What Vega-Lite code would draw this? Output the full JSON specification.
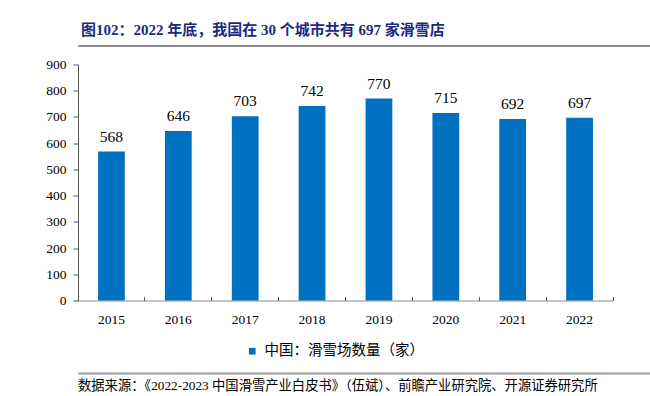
{
  "$schema": "https://vega.github.io/schema/vega-lite/v6.json",
  "background": "white",
  "padding": {"left": 24, "top": 22, "right": 20, "bottom": 4},
  "config": {
    "view": {"stroke": null},
    "font": "Liberation Serif, Noto Sans CJK SC"
  },
  "spacing": 10.5,
  "vconcat": [
    {
      "width": 606,
      "height": 1,
      "data": {"values": []},
      "mark": "text",
      "encoding": {},
      "view": {"stroke": "#8c8c8c", "strokeWidth": 1},
      "title": {
        "text": "图102：2022 年底，我国在 30 个城市共有 697 家滑雪店",
        "anchor": "start",
        "font": "Liberation Serif, Noto Sans CJK SC",
        "fontSize": 15,
        "fontWeight": "bold",
        "color": "#1c2a80",
        "offset": 7,
        "dx": 3
      }
    },
    {
      "spacing": 45,
      "vconcat": [
        {
          "hconcat": [
            {
              "width": 535,
              "height": 236,
              "data": {
                "values": [
                  {"year": "2015", "value": 568},
                  {"year": "2016", "value": 646},
                  {"year": "2017", "value": 703},
                  {"year": "2018", "value": 742},
                  {"year": "2019", "value": 770},
                  {"year": "2020", "value": 715},
                  {"year": "2021", "value": 692},
                  {"year": "2022", "value": 697}
                ]
              },
              "resolve": {"axis": {"x": "independent"}},
              "encoding": {
                "y": {
                  "field": "value",
                  "type": "quantitative",
                  "scale": {"domain": [0, 900], "nice": false},
                  "axis": {
                    "title": null,
                    "grid": false,
                    "values": [0, 100, 200, 300, 400, 500, 600, 700, 800, 900],
                    "labelOverlap": false,
                    "tickSize": 5,
                    "tickColor": "#555555",
                    "domainColor": "#555555",
                    "labelFont": "Liberation Serif",
                    "labelFontSize": 13.5,
                    "labelColor": "#000000",
                    "labelPadding": 7,
                    "minExtent": 54
                  }
                }
              },
              "layer": [
                {
                  "mark": {"type": "bar", "width": {"band": 0.4}},
                  "encoding": {
                    "x": {
                      "field": "year",
                      "type": "nominal",
                      "scale": {"paddingInner": 0, "paddingOuter": 0},
                      "axis": {
                        "orient": "bottom",
                        "title": null,
                        "ticks": false,
                        "domainColor": "#8c8c8c",
                        "domainWidth": 1.2,
                        "labelAngle": 0,
                        "labelFont": "Liberation Serif",
                        "labelFontSize": 13.5,
                        "labelColor": "#000000",
                        "labelPadding": 12
                      }
                    },
                    "color": {
                      "datum": "中国：滑雪场数量（家）",
                      "type": "nominal",
                      "scale": {"range": ["#0070C0"]},
                      "legend": {
                        "title": null,
                        "orient": "none",
                        "legendX": 162,
                        "legendY": 294,
                        "padding": 5,
                        "symbolType": "square",
                        "symbolSize": 45,
                        "symbolStrokeWidth": 0,
                        "labelFont": "Noto Sans CJK SC",
                        "labelFontSize": 14.5,
                        "labelColor": "#000000",
                        "labelOffset": 5
                      }
                    }
                  }
                },
                {
                  "mark": {"type": "text", "baseline": "middle", "dy": -15, "fontSize": 15.5, "font": "Liberation Serif", "color": "#000000"},
                  "encoding": {
                    "x": {
                      "field": "year",
                      "type": "nominal",
                      "axis": {
                        "orient": "bottom",
                        "title": null,
                        "labels": false,
                        "domain": false,
                        "grid": false,
                        "ticks": true,
                        "bandPosition": 1,
                        "tickSize": -4,
                        "tickColor": "#555555"
                      }
                    },
                    "text": {"field": "value", "type": "quantitative"}
                  }
                }
              ]
            }
          ]
        },
        {
          "width": 606,
          "height": 1,
          "data": {"values": []},
          "mark": "text",
          "encoding": {},
          "view": {"stroke": "#8c8c8c", "strokeWidth": 1},
          "title": {
            "text": "数据来源：《2022-2023 中国滑雪产业白皮书》（伍斌）、前瞻产业研究院、开源证券研究所",
            "orient": "bottom",
            "anchor": "start",
            "font": "Liberation Serif, Noto Sans CJK SC",
            "fontSize": 13.3,
            "fontWeight": "normal",
            "color": "#000000",
            "offset": 5
          }
        }
      ]
    }
  ]
}
